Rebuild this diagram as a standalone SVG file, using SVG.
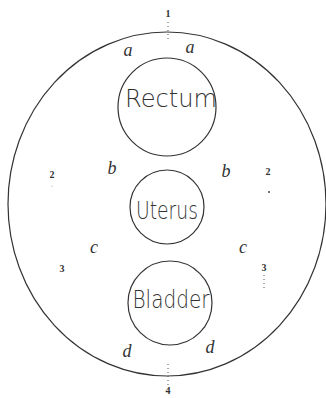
<svg xmlns="http://www.w3.org/2000/svg" width="326" height="398" viewBox="0 0 326 398">
<style>
.ln{fill:none;stroke:#333;stroke-width:1.2}
.org{font-family:"DejaVu Sans","Liberation Sans",sans-serif;font-weight:200;font-size:24px;fill:#333;text-anchor:middle}
.lt{font-family:"Liberation Serif","DejaVu Serif",serif;font-style:italic;font-size:18px;fill:#333;text-anchor:middle}
.num{font-family:"Liberation Serif","DejaVu Serif",serif;font-size:10px;fill:#333;text-anchor:middle;font-weight:bold}
.dot{stroke:#555;stroke-width:1;stroke-dasharray:1 3;fill:none}
</style>
<rect width="326" height="398" fill="#fff"/>
<g id="outline"><ellipse class="ln" cx="167" cy="204" rx="159" ry="172"/></g>
<g id="rectum"><circle class="ln" cx="167" cy="107" r="49"/><text class="org" x="171" y="107" font-size="27" textLength="92" lengthAdjust="spacingAndGlyphs">Rectum</text></g>
<g id="uterus"><circle class="ln" cx="167" cy="207" r="37"/><text class="org" x="167" y="219" textLength="62" lengthAdjust="spacingAndGlyphs">Uterus</text></g>
<g id="bladder"><circle class="ln" cx="170" cy="303" r="42"/><text class="org" x="171" y="308" textLength="77" lengthAdjust="spacingAndGlyphs">Bladder</text></g>
<g id="labels">
<text class="lt" x="128" y="56">a</text><text class="lt" x="190" y="53">a</text>
<text class="lt" x="112" y="174">b</text><text class="lt" x="226" y="177">b</text>
<text class="lt" x="94" y="253">c</text><text class="lt" x="243" y="253">c</text>
<text class="lt" x="127" y="357">d</text><text class="lt" x="210" y="353">d</text>
<text class="num" x="168" y="17">1</text>
<text class="num" x="52" y="178">2</text><text class="num" x="268" y="175">2</text>
<text class="num" x="62" y="272">3</text><text class="num" x="264" y="271">3</text>
<text class="num" x="168" y="394">4</text>
</g>
<g id="connectors">
<path class="dot" d="M168 22V40"/>
<path class="dot" d="M168 364V385"/>
<path class="dot" d="M264 275V290"/>
<circle cx="269" cy="192" r="1" fill="#444"/>
<circle cx="52" cy="186" r="0.6" fill="#999"/>
</g>
</svg>
